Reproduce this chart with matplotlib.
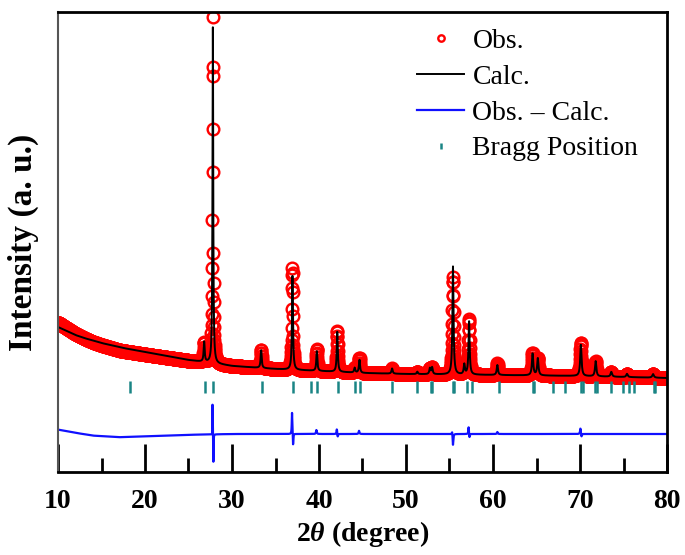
import numpy as np
import matplotlib
matplotlib.use("Agg")
import matplotlib.pyplot as plt

# --- data ---
# background (2theta, counts)
bg_pos = [10, 11, 12, 13, 15, 17.5, 20, 22.5, 25, 27.5, 30, 35, 40, 45, 50, 60, 70, 80]
bg_counts = [2250, 2150, 2050, 1975, 1850, 1725, 1625, 1525, 1425, 1350, 1275, 1200,
             1150, 1100, 1075, 1050, 1025, 975]

# reflections: position, height above background, fwhm
peak_pos = [26.8, 27.8, 33.35, 36.95, 39.75, 42.1, 44.1, 44.65, 48.4, 51.3, 52.75, 53.0,
            55.4, 56.7, 57.25, 60.5, 64.55, 65.15, 70.1, 71.8, 73.6, 75.4, 78.4]
peak_height = [500, 8400, 450, 2400, 500, 1000, 120, 330, 130, 60, 150, 170,
               2700, 250, 1350, 250, 550, 430, 780, 380, 120, 80, 90]
peak_fwhm = [0.14, 0.10, 0.14, 0.13, 0.14, 0.14, 0.15, 0.15, 0.16, 0.16, 0.16, 0.16,
             0.15, 0.16, 0.15, 0.17, 0.18, 0.18, 0.18, 0.18, 0.2, 0.2, 0.22]

# obs - calc features
dbg_pos = [10, 12, 14, 17, 20, 25, 30, 80]
dbg_counts = [110, 30, -40, -80, -60, -20, 0, 0]
dpk_pos = [27.76, 27.8, 27.86, 36.9, 37.02, 39.7, 42.05, 42.15, 44.6, 55.3, 55.4,
           57.2, 57.3, 60.5, 70.05, 70.17]
dpk_amp = [750, 300, -700, 550, -300, 100, 130, -80, 80, 80, -280,
           180, -100, 50, 150, -80]
dpk_fwhm = [0.02, 0.02, 0.04, 0.07, 0.07, 0.1, 0.08, 0.08, 0.1, 0.08, 0.08,
            0.08, 0.08, 0.1, 0.1, 0.1]

bragg_pos = [18.3, 26.95, 27.85, 33.43, 37.01, 39.03, 39.79, 42.16, 44.13, 44.71, 48.43,
             51.29, 52.85, 53.0, 55.4, 55.55, 57.01, 57.55, 60.73, 64.55, 64.7, 66.86,
             68.29, 70.15, 70.3, 71.78, 71.92, 73.57, 74.92, 75.58, 76.17, 78.45, 78.6]

diff_offset = -425
bragg_level = 750


def lorentz(x, pos, amp, fwhm):
    y = np.zeros_like(x)
    for p, a, w in zip(pos, amp, fwhm):
        y += a / (1 + ((x - p) / (w / 2)) ** 2)
    return y


tt = np.round(np.arange(10.0, 80.0001, 0.02), 2)
calc = np.interp(tt, bg_pos, bg_counts) + lorentz(tt, peak_pos, peak_height, peak_fwhm)
diff = np.interp(tt, dbg_pos, dbg_counts) + lorentz(tt, dpk_pos, dpk_amp, dpk_fwhm)
obs = calc + diff

plt.rcParams['font.family'] = ['Liberation Serif', 'DejaVu Serif']
plt.rcParams['mathtext.fontset'] = 'custom'
plt.rcParams['mathtext.it'] = 'Liberation Serif:bold:italic'
plt.rcParams['mathtext.rm'] = 'Liberation Serif:bold'

fig = plt.figure(figsize=(6.85, 5.55), dpi=100)
ax = fig.add_axes([58 / 685, 83 / 555, 609 / 685, 460 / 555])

ax.plot(tt, obs, 'o', mfc='none', mec='red', ms=8.4, mew=1.7, label='Obs.')
ax.plot(tt, calc, color='black', lw=1.4, label='Calc.')
ax.plot(tt, diff + diff_offset, color='#1010ff', lw=1.6, label='Obs. \u2013 Calc.')
ax.plot(bragg_pos, [bragg_level] * len(bragg_pos), '|', color='#1a8585', ms=8, mew=1.8,
        label='Bragg Position')

ax.set_xlim(10, 80)
ax.set_ylim(-1375, 10125)
ax.set_yticks([])
ax.set_xticks(np.arange(10, 81, 10))
ax.set_xticks(np.arange(15, 80, 10), minor=True)
ax.tick_params(axis='x', which='major', direction='in', length=20, width=2, pad=12,
               labelsize=20)
ax.tick_params(axis='x', which='minor', direction='in', length=10, width=2)
for lab in ax.get_xticklabels():
    lab.set_fontweight('bold')
for s in ['top', 'right', 'bottom']:
    ax.spines[s].set_linewidth(2)
ax.spines['left'].set_linewidth(1.5)
ax.spines['left'].set_color('#555555')

ax.set_xlabel(r'2$\theta$ (degree)', fontsize=20, fontweight='bold', labelpad=4)
ax.set_ylabel('Intensity (a. u.)', fontsize=24, fontweight='bold', labelpad=14)

leg = ax.legend(loc='upper left', bbox_to_anchor=(0.562, 1.0), frameon=False,
                fontsize=20, handlelength=1.7, handletextpad=0.3, labelspacing=0.37,
                markerscale=0.55, borderaxespad=0.2)

fig.savefig('out.png', dpi=100)
